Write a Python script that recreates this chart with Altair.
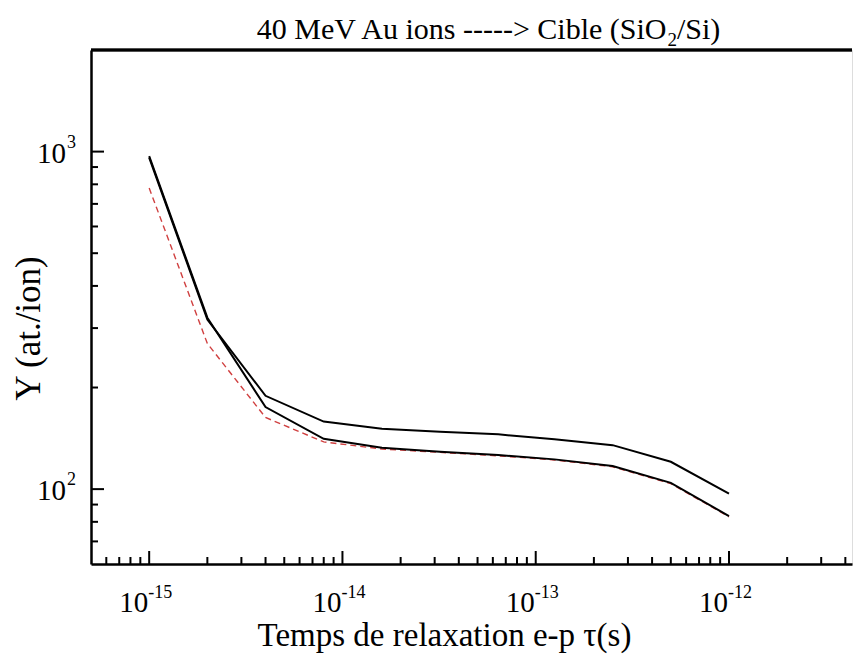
import altair as alt
import pandas as pd

# ---- data ----
tau = [1e-15, 2e-15, 4e-15, 8e-15, 1.6e-14, 3.2e-14, 6.4e-14, 1.25e-13, 2.5e-13, 5e-13, 1e-12]
y_upper = [960, 318, 189, 158.5, 151, 148, 145.3, 140.5, 135, 120.5, 97]
y_lower = [970, 322, 175, 141, 132.6, 129, 126.2, 122.5, 117, 104.4, 83.2]
y_red = [780, 270, 163, 138, 131.5, 128.5, 125.5, 122, 116.5, 103.8, 82.8]

x_major = [1e-15, 1e-14, 1e-13, 1e-12]
x_major_exp = ["-15", "-14", "-13", "-12"]
y_major = [100, 1000]
y_major_exp = ["2", "3"]

title_main = "40 MeV Au ions -----> Cible (SiO"
title_sub = "2"
title_end = "/Si)"

X_DOMAIN = [5e-16, 4.33e-12]
Y_DOMAIN = [60, 2000]

W, H = 761, 514
FONT = "Liberation Serif"

# minor ticks
x_minor = []
for d in range(-16, -11):
    for k in range(2, 10):
        v = k * 10.0 ** d
        if X_DOMAIN[0] < v < X_DOMAIN[1]:
            x_minor.append(v)
y_minor = []
for d in range(1, 4):
    for k in range(2, 10):
        v = k * 10.0 ** d
        if Y_DOMAIN[0] < v < Y_DOMAIN[1]:
            y_minor.append(v)

curves = pd.concat([
    pd.DataFrame({"x": tau, "y": y_red, "s": "c"}),
    pd.DataFrame({"x": tau, "y": y_upper, "s": "a"}),
    pd.DataFrame({"x": tau, "y": y_lower, "s": "b"}),
])

xs = alt.Scale(type="log", domain=X_DOMAIN, nice=False)
ys = alt.Scale(type="log", domain=Y_DOMAIN, nice=False)

base_x = alt.X("x:Q", scale=xs, axis=alt.Axis(
    labels=False, ticks=False, grid=False, domainColor="black", domainWidth=2.5,
    title="Temps de relaxation e-p τ(s)", titleFont=FONT, titleFontSize=33,
    titleFontWeight="normal", titleColor="#000000", titleX=353, titleY=81,
    titleBaseline="alphabetic", titleAlign="center"))
base_y = alt.Y("y:Q", scale=ys, axis=alt.Axis(
    labels=False, ticks=False, grid=False, domainColor="black", domainWidth=2.5,
    title="Y (at./ion)", titleFont=FONT, titleFontSize=35,
    titleFontWeight="normal", titleColor="#000000", titleX=-52, titleY=278,
    titleBaseline="alphabetic", titleAlign="center", titleAngle=270))

red = alt.Chart(curves[curves.s == "c"]).mark_line(
    color="#d04040", strokeWidth=1.4, strokeDash=[6, 4]).encode(x=base_x, y=base_y)
black = alt.Chart(curves[curves.s != "c"]).mark_line(
    color="black", strokeWidth=2).encode(x="x:Q", y="y:Q", detail="s:N")

xmaj_df = pd.DataFrame({"x": x_major, "e": x_major_exp, "b": "10"})
ymaj_df = pd.DataFrame({"y": y_major, "e": y_major_exp, "b": "10"})
xmin_df = pd.DataFrame({"x": x_minor})
ymin_df = pd.DataFrame({"y": y_minor})
title_df = pd.DataFrame({"a": [title_main], "s": [title_sub], "e": [title_end]})

xt_major = alt.Chart(xmaj_df).mark_rule(color="black", strokeWidth=2).encode(
    x="x:Q", y=alt.value(H), y2=alt.value(H - 13))
xt_minor = alt.Chart(xmin_df).mark_rule(color="black", strokeWidth=2).encode(
    x="x:Q", y=alt.value(H), y2=alt.value(H - 7))
yt_major = alt.Chart(ymaj_df).mark_rule(color="black", strokeWidth=2).encode(
    y="y:Q", x=alt.value(0), x2=alt.value(13))
yt_minor = alt.Chart(ymin_df).mark_rule(color="black", strokeWidth=2).encode(
    y="y:Q", x=alt.value(0), x2=alt.value(7))

top_border = alt.Chart(xmaj_df).mark_rule(color="black", strokeWidth=2.5).encode(
    x=alt.value(0), x2=alt.value(W), y=alt.value(0))

xl_base = alt.Chart(xmaj_df).mark_text(
    align="right", baseline="alphabetic", font=FONT, fontSize=29, dx=-1, color="black"
).encode(x="x:Q", y=alt.value(H + 48), text="b:N")
xl_exp = alt.Chart(xmaj_df).mark_text(
    align="left", baseline="alphabetic", font=FONT, fontSize=18, dx=-1, color="black"
).encode(x="x:Q", y=alt.value(H + 34), text="e:N")

yl_base = alt.Chart(ymaj_df).mark_text(
    align="right", baseline="middle", font=FONT, fontSize=29, dy=2, color="black"
).encode(y="y:Q", x=alt.value(-25), text="b:N")
yl_exp = alt.Chart(ymaj_df).mark_text(
    align="left", baseline="middle", font=FONT, fontSize=18, dy=-9, color="black"
).encode(y="y:Q", x=alt.value(-24), text="e:N")

t_main = alt.Chart(title_df).mark_text(
    align="right", baseline="alphabetic", font=FONT, fontSize=30, color="black"
).encode(x=alt.value(575.5), y=alt.value(-11), text="a:N")
t_sub = alt.Chart(title_df).mark_text(
    align="left", baseline="alphabetic", font=FONT, fontSize=19, color="black"
).encode(x=alt.value(576.5), y=alt.value(-4), text="s:N")
t_end = alt.Chart(title_df).mark_text(
    align="left", baseline="alphabetic", font=FONT, fontSize=30, color="black"
).encode(x=alt.value(586), y=alt.value(-11), text="e:N")

chart = alt.layer(
    red, black, xt_major, xt_minor, yt_major, yt_minor, top_border,
    xl_base, xl_exp, yl_base, yl_exp, t_main, t_sub, t_end
).properties(
    width=W, height=H,
    autosize=alt.AutoSizeParams(type="none"),
    padding={"left": 91, "top": 50, "right": 1, "bottom": 91},
).configure_view(stroke=None).configure(background="white")

chart.save("out.html", embed_options={"renderer": "svg", "actions": False})
